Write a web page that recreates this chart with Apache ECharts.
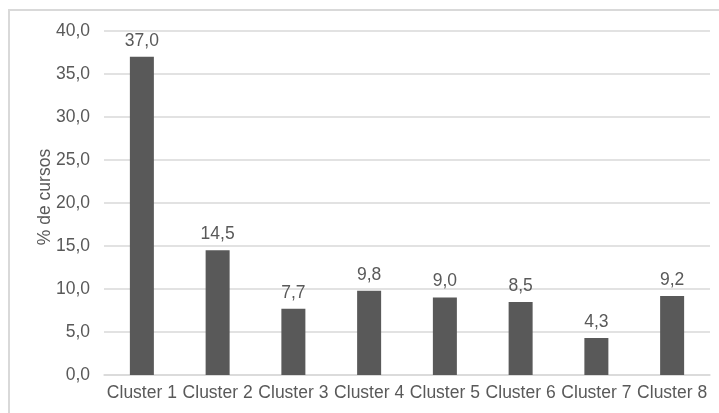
<!DOCTYPE html>
<html>
<head>
<meta charset="utf-8">
<script src="https://cdn.jsdelivr.net/npm/echarts@6/dist/echarts.min.js"></script>
<style>
  html, body { margin: 0; padding: 0; background: #fff; }
  #main { width: 719px; height: 413px; }
</style>
</head>
<body>
<div id="main"></div>
<script>
var categories = ['Cluster 1', 'Cluster 2', 'Cluster 3', 'Cluster 4', 'Cluster 5', 'Cluster 6', 'Cluster 7', 'Cluster 8'];
var values = [37.0, 14.5, 7.7, 9.8, 9.0, 8.5, 4.3, 9.2];
var yAxisName = '% de cursos';

var textColor = '#595959';
var fmt = function (v) { return Number(v).toFixed(1).replace('.', ','); };

var myChart = echarts.init(document.getElementById('main'));
var option = {
  animation: false,
  textStyle: { fontFamily: 'Liberation Sans, Arial, sans-serif' },
  graphic: [{
    type: 'rect',
    shape: { x: 9, y: 10, width: 800, height: 500 },
    style: { fill: 'none', stroke: '#d9d9d9', lineWidth: 2 },
    silent: true
  }],
  grid: { left: 104, right: 9, top: 31, bottom: 38 },
  xAxis: {
    type: 'category',
    data: categories,
    axisLine: { lineStyle: { color: '#d9d9d9', width: 1.5 } },
    axisTick: { show: false },
    axisLabel: { color: textColor, fontSize: 17.5, margin: 9, interval: 0 }
  },
  yAxis: {
    type: 'value',
    min: 0,
    max: 40,
    interval: 5,
    name: yAxisName,
    nameLocation: 'middle',
    nameGap: 50,
    nameMoveOverlap: false,
    nameTextStyle: { color: textColor, fontSize: 17.5, padding: [0, 0, 0, 12] },
    axisLine: { show: false },
    axisTick: { show: false },
    splitLine: { lineStyle: { color: '#d9d9d9', width: 1.5 } },
    axisLabel: { color: textColor, fontSize: 17.5, margin: 14, formatter: fmt }
  },
  series: [{
    type: 'bar',
    data: values,
    barWidth: 24,
    itemStyle: { color: '#595959' },
    label: {
      show: true,
      position: 'top',
      distance: 7,
      color: textColor,
      fontSize: 17.5,
      formatter: function (p) { return fmt(p.value); }
    }
  }]
};
myChart.setOption(option);
</script>
</body>
</html>
